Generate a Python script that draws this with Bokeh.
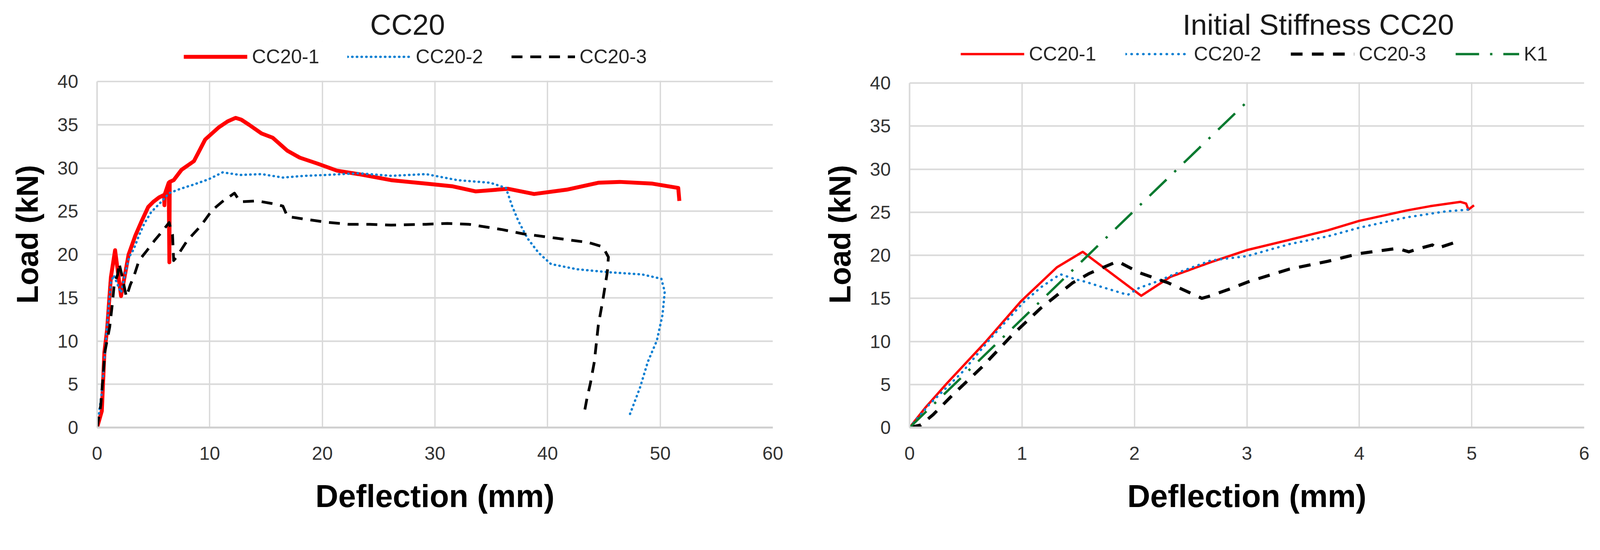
from bokeh.plotting import figure
from bokeh.models import Range1d, FixedTicker, Legend, LegendItem, BoxAnnotation
from bokeh.layouts import row
from bokeh.embed import file_html
from bokeh.resources import INLINE

# ---------------- data: left chart (CC20, full curves) ----------------
cc20_1_x = [0, 0.42, 0.65, 0.89, 1.06, 1.23, 1.42, 1.6, 2.13, 2.8, 3.4, 3.97, 4.54, 5.0, 5.5,
            5.95, 5.98, 6.02, 6.36, 6.42, 6.45, 6.8, 7.5, 8.6, 9.6, 10.8, 11.6, 12.3, 12.8,
            13.5, 14.6, 15.6, 16.9, 18.0, 19.6, 21.3, 23.2, 26.1, 29.2, 31.5, 33.6, 36.5,
            38.8, 41.7, 44.5, 46.4, 49.3, 51.6, 51.7]
cc20_1_y = [0, 1.9, 8.7, 11.3, 14.4, 17.4, 19.0, 20.5, 15.2, 20.0, 22.2, 23.9, 25.5, 26.1, 26.6,
            26.9, 25.7, 27.0, 28.3, 19.1, 28.4, 28.6, 29.8, 30.8, 33.3, 34.7, 35.4, 35.8, 35.6,
            35.0, 34.0, 33.5, 32.0, 31.2, 30.5, 29.7, 29.3, 28.6, 28.2, 27.9, 27.3, 27.6,
            27.0, 27.5, 28.3, 28.4, 28.2, 27.7, 26.2]

cc20_2_x = [0, 0.4, 0.77, 1.0, 1.23, 1.48, 1.83, 2.13, 2.43, 2.84, 3.25, 3.72, 4.2, 4.8, 5.63,
            6.4, 7.4, 8.6, 9.9, 11.15, 12.7, 14.6, 16.5, 18.4, 20.3, 23.2, 26.1, 29.2, 32.0,
            34.9, 36.3, 36.85, 37.4, 38.2, 39.2, 40.3, 42.6, 45.5, 48.4, 50.1, 50.4, 50.2,
            49.7, 48.9, 48.2, 47.3]
cc20_2_y = [0, 3.9, 9.7, 13.6, 16.8, 17.6, 16.5, 15.6, 17.4, 19.7, 20.6, 22.2, 23.6, 24.9, 26.0,
            27.1, 27.6, 28.1, 28.7, 29.5, 29.2, 29.3, 28.9, 29.1, 29.2, 29.4, 29.1, 29.3, 28.6,
            28.3, 27.7, 25.6, 23.9, 21.9, 20.2, 18.9, 18.3, 17.95, 17.7, 17.2, 15.7, 13.0,
            10.05, 7.6, 4.6, 1.5]

cc20_3_x = [0, 0.33, 0.7, 1.12, 1.36, 1.53, 1.83, 1.95, 2.19, 2.6, 2.95, 3.25, 3.72, 4.45, 5.15,
            5.74, 6.4, 6.7, 6.8, 7.05, 8.0, 9.2, 10.2, 11.1, 12.2, 12.7, 14.2, 15.75, 16.5,
            16.9, 18.4, 20.3, 22.3, 24.2, 26.1, 29.2, 31.1, 33.0, 35.9, 37.8, 40.7, 43.6,
            44.9, 45.4, 45.3, 44.9, 44.5, 44.15, 43.8, 43.5, 43.2]
cc20_3_y = [0, 2.6, 8.8, 11.6, 14.35, 16.65, 17.7, 19.0, 17.7, 15.1, 16.5, 17.4, 19.3, 20.5, 21.7,
            22.6, 23.7, 22.3, 19.3, 19.7, 21.6, 23.3, 25.1, 26.1, 27.1, 26.1, 26.2, 25.85, 25.6,
            24.4, 24.1, 23.75, 23.5, 23.5, 23.4, 23.5, 23.6, 23.5, 22.9, 22.4, 21.9, 21.4,
            20.9, 19.7, 17.95, 14.7, 11.8, 7.6, 5.1, 3.4, 1.3]

# ---------------- data: right chart (Initial Stiffness CC20) ----------------
is_1_x = [0, 0.14, 0.33, 0.68, 0.99, 1.31, 1.54, 2.06, 2.32, 2.68, 3.0, 3.38, 3.72, 4.0,
          4.42, 4.63, 4.9, 4.95, 4.97, 5.02]
is_1_y = [0, 2.3, 5.1, 10.0, 14.65, 18.6, 20.4, 15.3, 17.5, 19.2, 20.6, 21.8, 22.9, 24.0,
          25.2, 25.7, 26.2, 26.0, 25.3, 25.8]
is_2_x = [0, 0.17, 0.47, 0.73, 1.01, 1.17, 1.34, 1.48, 1.57, 1.69, 1.94, 2.04, 2.21, 2.39,
          2.68, 3.0, 3.38, 3.72, 4.0, 4.42, 4.77, 4.97]
is_2_y = [0, 2.6, 6.45, 10.5, 14.5, 16.3, 17.8, 17.2, 16.9, 16.4, 15.4, 16.2, 17.0, 18.0,
          19.4, 19.9, 21.3, 22.2, 23.2, 24.4, 25.1, 25.3]
is_3_x = [0, 0.1, 0.21, 0.38, 0.65, 0.91, 1.17, 1.45, 1.6, 1.85, 2.04, 2.3, 2.6, 2.68, 2.85,
          3.03, 3.38, 3.72, 4.0, 4.34, 4.44, 4.51, 4.65, 4.69, 4.9]
is_3_y = [0, 0.3, 1.5, 3.75, 7.1, 10.7, 13.9, 16.8, 17.9, 19.3, 18.0, 16.8, 15.0, 15.3, 16.1,
          17.0, 18.4, 19.3, 20.2, 20.8, 20.4, 20.7, 21.2, 20.8, 21.7]
k1_x = [0, 3.0]
k1_y = [0, 37.8]

left_xticks = [0, 10, 20, 30, 40, 50, 60]
right_xticks = [0, 1, 2, 3, 4, 5, 6]
yticks = [0, 5, 10, 15, 20, 25, 30, 35, 40]
Y_MAX = 40

FONT = "Liberation Sans"
RED = "#FF0000"
BLUE = "#0A7FD2"
BLACK = "#000000"
GREEN = "#0B7A30"
GRID = "#D9D9D9"
FIG_H = 1347


def make_fig(width, bl, br, bt, bb, y40_row, xmax, xticks, title):
    # frame extends above y = 40 to hold the legend; y40_row = pixel row of y = 40
    frame_h = FIG_H - bt - bb
    px_per_unit = (FIG_H - bb - y40_row) / Y_MAX
    y_top = frame_h / px_per_unit
    p = figure(width=width, height=FIG_H, output_backend="svg", toolbar_location=None,
               x_range=Range1d(0, xmax), y_range=Range1d(0, y_top),
               min_border_left=bl, min_border_right=br, min_border_top=bt,
               min_border_bottom=bb)
    p.outline_line_color = None
    p.background_fill_color = "white"
    p.border_fill_color = "white"

    p.title.text = title
    p.title.align = "left"
    p.title.offset = 699
    p.title.standoff = 2
    p.title.vertical_align = "bottom"
    p.title.text_font = FONT
    p.title.text_font_size = "75px"
    p.title.text_font_style = "normal"
    p.title.text_color = "#1a1a1a"

    p.xaxis.ticker = FixedTicker(ticks=xticks)
    p.yaxis.ticker = FixedTicker(ticks=yticks)
    p.yaxis.bounds = (0, Y_MAX)
    for ax in (p.xaxis, p.yaxis):
        ax.major_tick_line_color = None
        ax.minor_tick_line_color = None
        ax.major_tick_out = 0
        ax.major_tick_in = 0
        ax.minor_tick_out = 0
        ax.minor_tick_in = 0
        ax.major_label_text_font = FONT
        ax.major_label_text_font_size = "48px"
        ax.major_label_text_color = "#333333"
        ax.axis_label_text_font = FONT
        ax.axis_label_text_font_style = "bold"
        ax.axis_label_text_color = "#000000"
    p.xaxis.axis_label = "Deflection (mm)"
    p.yaxis.axis_label = "Load (kN)"
    p.xaxis.axis_label_text_font_size = "81px"
    p.yaxis.axis_label_text_font_size = "77px"
    p.xaxis.major_label_standoff = 49
    p.xaxis.axis_label_standoff = 45
    p.yaxis.major_label_standoff = 48
    p.yaxis.axis_label_standoff = 31
    p.xaxis.axis_line_color = "#D0D0D0"
    p.xaxis.axis_line_width = 5
    p.yaxis.axis_line_color = GRID
    p.yaxis.axis_line_width = 4

    p.xgrid.grid_line_color = GRID
    p.xgrid.grid_line_width = 3.5
    p.ygrid.grid_line_color = GRID
    p.ygrid.grid_line_width = 4
    # hide the vertical grid lines above the top tick (legend area)
    p.add_layout(BoxAnnotation(bottom=Y_MAX + 0.1, fill_color="white", fill_alpha=1.0,
                               line_color=None, level="underlay"))
    return p


def add_legend(p, items, leg_x, leg_bottom_row, bb, spacing):
    legend = Legend(items=items, orientation="horizontal",
                    location=(leg_x, FIG_H - bb - leg_bottom_row),
                    margin=0, padding=0, spacing=spacing,
                    glyph_width=163, glyph_height=48, label_height=48,
                    label_standoff=12, label_text_font=FONT,
                    label_text_font_size="50px", label_text_color="#262626",
                    border_line_color=None, background_fill_alpha=0)
    p.add_layout(legend, "center")


# ---------------- left chart ----------------
W1, BL1, BR1, BT1, BB1 = 2048, 248, 70, 98, 253
p1 = make_fig(W1, BL1, BR1, BT1, BB1, 202, 60, left_xticks, "CC20")
r1 = p1.line(cc20_1_x, cc20_1_y, line_color=RED, line_width=10, line_join="round")
r2 = p1.line(cc20_2_x, cc20_2_y, line_color=BLUE, line_width=6, line_dash="1 11",
             line_cap="round", line_join="round")
r3 = p1.line(cc20_3_x, cc20_3_y, line_color=BLACK, line_width=7, line_dash="28 20",
             line_join="round")
add_legend(p1, [LegendItem(label="CC20-1", renderers=[r1]),
                LegendItem(label="CC20-2", renderers=[r2]),
                LegendItem(label="CC20-3", renderers=[r3])],
           222, 174, BB1, 72)

# ---------------- right chart ----------------
W2, BL2, BR2, BT2, BB2 = 2045, 280, 38, 105, 244
p2 = make_fig(W2, BL2, BR2, BT2, BB2, 213, 6, right_xticks, "Initial Stiffness CC20")
s1 = p2.line(is_1_x, is_1_y, line_color=RED, line_width=6, line_join="round")
s2 = p2.line(is_2_x, is_2_y, line_color=BLUE, line_width=6, line_dash="1 14",
             line_cap="round", line_join="round")
s3 = p2.line(is_3_x, is_3_y, line_color=BLACK, line_width=8, line_dash="30 24",
             line_join="round")
s4 = p2.line(k1_x, k1_y, line_color=GREEN, line_width=6, line_dash="60 28 6 28")
add_legend(p2, [LegendItem(label="CC20-1", renderers=[s1]),
                LegendItem(label="CC20-2", renderers=[s2]),
                LegendItem(label="CC20-3", renderers=[s3]),
                LegendItem(label="K1", renderers=[s4])],
           131, 176, BB2, 75)

layout = row(p1, p2, spacing=0)
open("out.html", "w").write(file_html(layout, INLINE))
